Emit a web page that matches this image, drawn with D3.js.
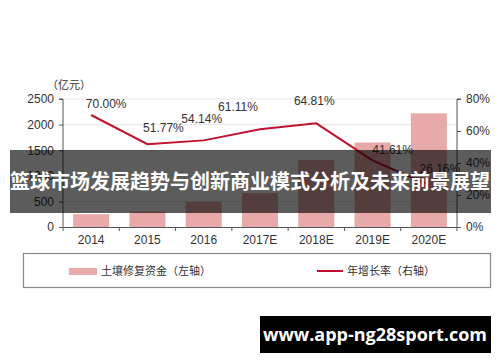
<!DOCTYPE html>
<html>
<head>
<meta charset="utf-8">
<script src="https://cdn.jsdelivr.net/npm/d3@7"></script>
<style>
  body { margin: 0; background: #fff; }
  svg { display: block; }
  text { font-family: "Liberation Sans", Arial, sans-serif; }
  .cn { font-family: "Noto Sans CJK SC", sans-serif; }
</style>
</head>
<body>
<script>
// chart values
const years = ['2014', '2015', '2016', '2017E', '2018E', '2019E', '2020E'];
const funds = [250, 300, 490, 660, 1310, 1650, 2220];        // 亿元, left axis
const growth = [70.00, 51.77, 54.14, 61.11, 64.81, 41.61, 26.16]; // %, right axis
const leftTicks = [0, 500, 1000, 1500, 2000, 2500];
const rightTicks = [0, 20, 40, 60, 80];
// label nudges (dx, dy) relative to each point
const labelNudge = [[15, -7], [16, -12], [-2, -17], [-22, -18], [-2, -18], [20, -6], [11, -12]];

const W = 500, H = 362;
const m = {left: 63, right: 43, top: 99, bottom: 135};

const svg = d3.select('body').append('svg')
    .attr('width', W)
    .attr('height', H);

const x = d3.scaleBand()
    .domain(years)
    .range([m.left, W - m.right])
    .paddingInner(0.36)
    .paddingOuter(0.18);

const yL = d3.scaleLinear().domain([0, 2500]).range([H - m.bottom, m.top]);
const yR = d3.scaleLinear().domain([0, 80]).range([H - m.bottom, m.top]);

// gridlines
svg.append('g')
  .selectAll('line')
  .data(leftTicks.slice(1))
  .join('line')
    .attr('x1', m.left).attr('x2', W - m.right)
    .attr('y1', d => yL(d)).attr('y2', d => yL(d))
    .attr('stroke', '#e6e6e6');

// bars
svg.append('g')
  .selectAll('rect')
  .data(funds)
  .join('rect')
    .attr('x', (d, i) => x(years[i]))
    .attr('width', x.bandwidth())
    .attr('y', d => yL(d))
    .attr('height', d => yL(0) - yL(d))
    .attr('fill', '#e8a9a9');

// axes
const axisColor = '#555';
const gl = svg.append('g')
    .attr('transform', `translate(${m.left},0)`)
    .call(d3.axisLeft(yL).tickValues(leftTicks).tickSize(4).tickPadding(5).tickFormat(d3.format('d')));
const gr = svg.append('g')
    .attr('transform', `translate(${W - m.right},0)`)
    .call(d3.axisRight(yR).tickValues(rightTicks).tickSize(4).tickPadding(5).tickFormat(d => d + '%'));
const gx = svg.append('g')
    .attr('transform', `translate(0,${yL(0)})`)
    .call(d3.axisBottom(x).tickSize(0).tickPadding(8));

// x ticks sit between categories
svg.append('g')
  .selectAll('line')
  .data(d3.range(years.length + 1))
  .join('line')
    .attr('x1', i => m.left + i * (W - m.left - m.right) / years.length)
    .attr('x2', i => m.left + i * (W - m.left - m.right) / years.length)
    .attr('y1', yL(0)).attr('y2', yL(0) + 4)
    .attr('stroke', axisColor);

[gl, gr, gx].forEach(g => {
  g.select('.domain').attr('stroke', axisColor);
  g.selectAll('.tick line').attr('stroke', axisColor);
  g.selectAll('text')
    .attr('fill', '#333')
    .style('font-size', '12px')
    .style('font-family', '"Liberation Sans", Arial, sans-serif');
});
gl.select('.domain').attr('d', `M-4,${yL(2500)}H0V${yL(0)}`);
gr.select('.domain').attr('d', `M4,${yR(80)}H0V${yR(0)}`);

// unit label
svg.append('text')
    .attr('class', 'cn')
    .attr('x', 47).attr('y', 89)
    .attr('font-size', 11)
    .attr('fill', '#333')
    .text('（亿元）');

// growth line
const cx = (d, i) => x(years[i]) + x.bandwidth() / 2;
const line = d3.line()
    .x(cx)
    .y(d => yR(d));

svg.append('path')
    .datum(growth)
    .attr('d', line)
    .attr('fill', 'none')
    .attr('stroke', '#c0122c')
    .attr('stroke-width', 2);

svg.append('g')
  .selectAll('text')
  .data(growth)
  .join('text')
    .attr('x', (d, i) => cx(d, i) + labelNudge[i][0])
    .attr('y', (d, i) => yR(d) + labelNudge[i][1])
    .attr('text-anchor', 'middle')
    .attr('font-size', 12)
    .attr('fill', '#333')
    .text(d => d.toFixed(2) + '%');

// legend
const lg = svg.append('g');
lg.append('rect')
    .attr('x', 23.5).attr('y', 253.5)
    .attr('width', 467).attr('height', 34)
    .attr('fill', '#fff')
    .attr('stroke', '#888')
    .attr('stroke-width', 1.2);
lg.append('rect')
    .attr('x', 69).attr('y', 268)
    .attr('width', 28).attr('height', 7)
    .attr('fill', '#e8a9a9');
lg.append('text')
    .attr('class', 'cn')
    .attr('x', 101).attr('y', 275)
    .attr('font-size', 11)
    .attr('fill', '#333')
    .text('土壤修复资金（左轴）');
lg.append('line')
    .attr('x1', 317).attr('x2', 343)
    .attr('y1', 271).attr('y2', 271)
    .attr('stroke', '#c0122c')
    .attr('stroke-width', 2);
lg.append('text')
    .attr('class', 'cn')
    .attr('x', 347).attr('y', 275)
    .attr('font-size', 11)
    .attr('fill', '#333')
    .text('年增长率（右轴）');

// title banner overlay
svg.append('rect')
    .attr('x', 10).attr('y', 150)
    .attr('width', 481).attr('height', 63)
    .attr('fill', '#000')
    .attr('fill-opacity', 0.64);
svg.append('text')
    .attr('class', 'cn')
    .attr('x', 250).attr('y', 189)
    .attr('text-anchor', 'middle')
    .attr('font-size', 20)
    .attr('font-weight', 'bold')
    .attr('fill', '#fff')
    .text('篮球市场发展趋势与创新商业模式分析及未来前景展望');

// watermark
svg.append('rect')
    .attr('x', 260).attr('y', 316)
    .attr('width', 231).attr('height', 37)
    .attr('fill', '#000');
svg.append('text')
    .attr('x', 375).attr('y', 341)
    .attr('text-anchor', 'middle')
    .attr('font-size', 18)
    .attr('font-weight', 'bold')
    .attr('fill', '#fff')
    .style('font-family', '"Open Sans", sans-serif')
    .text('www.app-ng28sport.com');
</script>
</body>
</html>
